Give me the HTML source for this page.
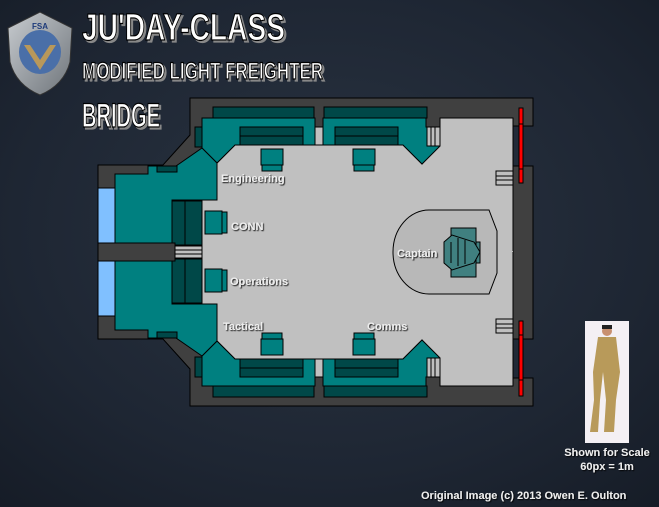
<!DOCTYPE html>
<html><head><meta charset="utf-8"><style>
html,body{margin:0;padding:0}
body{width:659px;height:507px;overflow:hidden;background:#1d2531}
svg{display:block}
.t{font-family:"Liberation Sans",sans-serif;font-weight:bold;fill:#fff}
.l{font-family:"Liberation Sans",sans-serif;font-weight:bold;font-size:11px;fill:#eee}
</style></head><body>
<svg width="659" height="507" viewBox="0 0 659 507" xmlns="http://www.w3.org/2000/svg">
<defs>
<radialGradient id="bg" cx="0.5" cy="0.45" r="0.8">
<stop offset="0" stop-color="#2a3442"/><stop offset="0.6" stop-color="#1e2633"/><stop offset="1" stop-color="#141a24"/>
</radialGradient>
<filter id="sh"><feDropShadow dx="1" dy="1" stdDeviation="0.6" flood-color="#000" flood-opacity="0.9"/></filter>
<filter id="sh2"><feDropShadow dx="2" dy="2" stdDeviation="0.3" flood-color="#888" flood-opacity="1"/></filter>
<linearGradient id="shield" x1="0" y1="0" x2="1" y2="1"><stop offset="0" stop-color="#c8ccd0"/><stop offset="1" stop-color="#6e747a"/></linearGradient>
<g id="half" stroke="#000" stroke-width="1">
<path d="M202,253 L202,200 L217,200 L217,163 L235,145 L403,145 L422,164 L438,146 L440,146 L440,118 L513,118 L513,253 Z" fill="#c0c0c0" stroke="none"/>
<path d="M202,252 L202,200 L217,200 L217,163 L235,145 L403,145 L422,164 L438,146 M440,146 L440,118 L513,118 L513,252" fill="none"/>
<path d="M202,118 L315,118 L315,145 L235,145 L217,163 L202,148 Z" fill="#008080"/>
<path d="M323,118 L426,118 L426,127 L440,127 L440,146 L422,164 L403,145 L323,145 Z" fill="#008080"/>
<rect x="315" y="127" width="8" height="18" fill="#c0c0c0"/>
<rect x="213" y="107" width="101" height="11" fill="#004848"/>
<rect x="324" y="107" width="103" height="11" fill="#004848"/>
<rect x="240" y="127" width="63" height="9" fill="#004848"/><rect x="240" y="136" width="63" height="9" fill="#004848"/>
<rect x="335" y="127" width="63" height="9" fill="#004848"/><rect x="335" y="136" width="63" height="9" fill="#004848"/>
<rect x="195" y="127" width="7" height="20" fill="#004848"/>
<rect x="427" y="127" width="13" height="19" fill="#c0c0c0"/>
<path d="M431,127 V146 M435,127 V146" />
<path d="M115,243 L115,174 L148,174 L148,166 L176,166 L202,148 L217,163 L217,200 L172,200 L172,243 Z" fill="#008080"/>
<rect x="157" y="166" width="20" height="6" fill="#004848"/>
<rect x="172" y="201" width="13" height="44" fill="#004848"/><rect x="185" y="201" width="17" height="44" fill="#004848"/>
<rect x="98" y="188" width="17" height="55" fill="#80c0ff"/>
<rect x="496" y="171" width="17" height="14" fill="#c0c0c0"/>
<path d="M496,176 H513 M496,180 H513"/>
<rect x="519" y="108" width="4" height="75" fill="#f00"/>
<path d="M519,124 H523 M519,169 H523"/>
<g fill="#008080">
<rect x="261" y="149" width="22" height="16"/><rect x="262" y="165" width="20" height="6"/>
<rect x="353" y="149" width="22" height="16"/><rect x="354" y="165" width="20" height="6"/>
</g>
</g>
</defs>
<rect width="659" height="507" fill="url(#bg)"/>
<path d="M190,98 L533,98 L533,126 L513,126 L513,166 L533,166 L533,339 L513,339 L513,378 L533,378 L533,406 L190,406 L190,369 L163,339 L98,339 L98,165 L163,165 L190,135 Z" fill="#404040" stroke="#000"/>
<use href="#half"/>
<use href="#half" transform="translate(0,504) scale(1,-1)"/>
<rect x="98" y="243" width="77" height="18" fill="#404040" stroke="#000"/>
<rect x="175" y="246" width="27" height="12" fill="#c0c0c0" stroke="#000"/>
<path d="M175,250 H202 M175,254 H202" stroke="#000"/>
<g fill="#008080" stroke="#000">
<rect x="205" y="211" width="17" height="23"/><rect x="222" y="212" width="5" height="21"/>
<rect x="205" y="269" width="17" height="23"/><rect x="222" y="270" width="5" height="21"/>
</g>
<path d="M429,210 L489,210 L497,231 L497,273 L489,294 L429,294 A36,42 0 0 1 429,210 Z" fill="#b8b8b8" stroke="#000"/>
<g fill="#408080" stroke="#000">
<rect x="451" y="228" width="25" height="49"/>
<rect x="476" y="242" width="4" height="21"/>
<path d="M444,242 L452,235 L474,242 L480,252 L474,263 L452,270 L444,263 Z"/>
<path d="M451,242 V263 M458,238 V266 M465,240 V264" fill="none"/>
</g>
<g filter="url(#sh)">
<text class="l" x="221" y="182">Engineering</text>
<text class="l" x="231" y="230">CONN</text>
<text class="l" x="230" y="285">Operations</text>
<text class="l" x="223" y="330">Tactical</text>
<text class="l" x="367" y="330">Comms</text>
<text class="l" x="397" y="257">Captain</text>
</g>
<g filter="url(#sh2)" stroke="#000" stroke-width="1.2">
<text class="t" x="82" y="40" font-size="38" textLength="203" lengthAdjust="spacingAndGlyphs">JU'DAY-CLASS</text>
<text class="t" x="82" y="79" font-size="24" textLength="241" lengthAdjust="spacingAndGlyphs">MODIFIED LIGHT FREIGHTER</text>
<text class="t" x="82" y="127" font-size="34" textLength="78" lengthAdjust="spacingAndGlyphs">BRIDGE</text>
</g>
<path d="M8,28 L40,12 L72,28 L70,62 Q64,85 40,95 Q16,85 10,62 Z" fill="url(#shield)" stroke="#333"/>
<ellipse cx="40" cy="52" rx="21" ry="22" fill="#4a6fa8"/>
<path d="M24,45 L40,70 L56,45 L50,45 L40,60 L30,45 Z" fill="#b8985a"/>
<text x="40" y="29" font-family="Liberation Sans,sans-serif" font-size="8" font-weight="bold" fill="#1d3a7a" text-anchor="middle">FSA</text>
<rect x="585" y="321" width="44" height="122" fill="#f4f0f4"/>
<path d="M598,337 L616,337 L620,372 L616,400 L614,432 L604,432 L606,400 L603,372 L600,400 L598,432 L590,432 L594,400 L593,372 Z" fill="#b89a5a"/>
<circle cx="607" cy="331" r="5" fill="#c89070"/>
<rect x="602" y="325" width="10" height="4" fill="#222"/>
<text x="607" y="456" font-family="Liberation Sans,sans-serif" font-size="11" font-weight="bold" fill="#eee" text-anchor="middle" filter="url(#sh)">Shown for Scale</text>
<text x="607" y="470" font-family="Liberation Sans,sans-serif" font-size="11" font-weight="bold" fill="#eee" text-anchor="middle" filter="url(#sh)">60px = 1m</text>
<text x="421" y="499" font-family="Liberation Sans,sans-serif" font-size="11" font-weight="bold" fill="#eee" filter="url(#sh)">Original Image (c) 2013 Owen E. Oulton</text>
</svg>
</body></html>
